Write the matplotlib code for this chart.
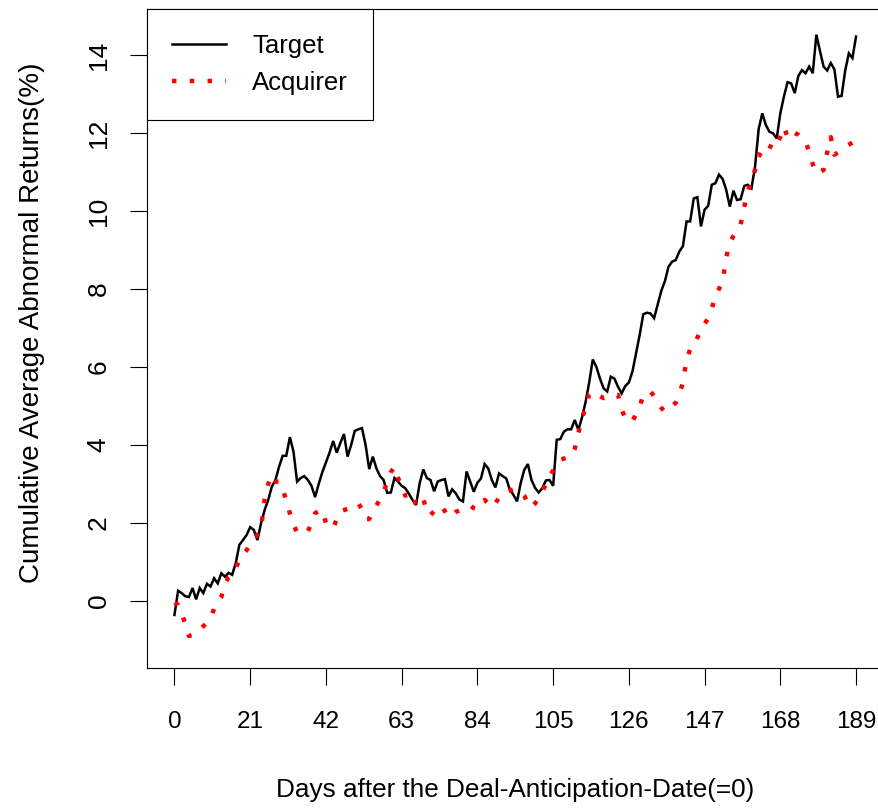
import matplotlib
matplotlib.use("Agg")
import matplotlib.pyplot as plt

# Days after the deal-anticipation date
days = list(range(190))

# Cumulative average abnormal returns (%) of target firms
target = [
    -0.36, 0.26, 0.20, 0.12, 0.10, 0.33, 0.04, 0.33, 0.20, 0.44,
    0.37, 0.58, 0.45, 0.71, 0.62, 0.72, 0.67, 0.97, 1.44, 1.56,
    1.69, 1.89, 1.82, 1.56, 1.99, 2.33, 2.59, 2.93, 3.10, 3.44,
    3.72, 3.72, 4.20, 3.83, 3.06, 3.15, 3.20, 3.10, 2.95, 2.66,
    3.00, 3.30, 3.55, 3.80, 4.10, 3.80, 4.05, 4.28, 3.70, 4.00,
    4.36, 4.40, 4.43, 4.00, 3.38, 3.70, 3.40, 3.20, 3.10, 2.77,
    2.78, 3.15, 3.06, 2.95, 2.89, 2.75, 2.59, 2.46, 3.02, 3.37,
    3.15, 3.10, 2.81, 3.06, 3.10, 3.12, 2.68, 2.86, 2.76, 2.60,
    2.55, 3.32, 3.06, 2.80, 3.03, 3.14, 3.51, 3.40, 3.10, 2.91,
    3.27, 3.20, 3.14, 2.85, 2.72, 2.55, 3.02, 3.36, 3.51, 3.10,
    2.90, 2.78, 2.89, 3.09, 3.10, 2.95, 4.13, 4.15, 4.34, 4.40,
    4.40, 4.64, 4.38, 4.70, 5.10, 5.60, 6.19, 6.00, 5.70, 5.45,
    5.37, 5.75, 5.70, 5.49, 5.32, 5.51, 5.60, 5.88, 6.35, 6.82,
    7.35, 7.39, 7.37, 7.25, 7.60, 7.95, 8.20, 8.57, 8.70, 8.74,
    8.96, 9.10, 9.73, 9.73, 10.32, 10.35, 9.60, 10.03, 10.13, 10.67,
    10.71, 10.93, 10.82, 10.54, 10.11, 10.52, 10.28, 10.30, 10.64, 10.67,
    10.58, 11.14, 12.10, 12.50, 12.20, 12.03, 11.99, 11.86, 12.50, 12.93,
    13.30, 13.27, 13.02, 13.46, 13.61, 13.53, 13.70, 13.53, 14.52, 14.10,
    13.70, 13.60, 13.79, 13.63, 12.93, 12.95, 13.60, 14.04, 13.92, 14.47,
]

# Cumulative average abnormal returns (%) of acquiring firms
acquirer = [
    -0.05, -0.10, -0.30, -0.60, -0.90, -0.87, -0.82, -0.75, -0.65, -0.55,
    -0.45, -0.20, -0.02, 0.10, 0.45, 0.60, 0.67, 0.85, 1.05, 1.20,
    1.30, 1.45, 1.60, 1.70, 1.86, 2.60, 3.00, 3.23, 3.06, 3.06,
    2.90, 2.55, 2.25, 1.95, 1.76, 1.72, 1.75, 1.78, 2.00, 2.25,
    2.30, 2.33, 2.00, 1.90, 1.86, 2.10, 2.30, 2.33, 2.36, 2.40,
    2.45, 2.50, 2.35, 2.10, 2.10, 2.26, 2.45, 2.60, 2.80, 3.05,
    3.30, 3.44, 3.15, 2.95, 2.70, 2.72, 2.77, 2.45, 2.50, 2.63,
    2.25, 2.20, 2.30, 2.40, 2.44, 2.30, 2.15, 2.20, 2.28, 2.32,
    2.38, 2.42, 2.44, 2.38, 2.35, 2.50, 2.59, 2.50, 2.40, 2.50,
    2.65, 2.75, 2.80, 2.83, 2.86, 2.84, 2.80, 2.70, 2.50, 2.40,
    2.50, 2.63, 2.80, 3.00, 3.20, 3.34, 3.50, 3.62, 3.65, 3.67,
    3.70, 3.90, 4.30, 4.70, 4.94, 5.30, 5.37, 5.30, 5.25, 5.20,
    5.22, 5.25, 5.28, 5.28, 4.90, 4.70, 4.60, 4.60, 4.80, 4.98,
    5.28, 5.32, 5.37, 5.25, 5.10, 4.95, 4.85, 4.90, 5.00, 5.08,
    5.30, 5.60, 6.20, 6.45, 6.52, 6.75, 6.95, 7.10, 7.25, 7.50,
    7.80, 8.00, 8.20, 8.80, 9.20, 9.35, 9.45, 9.65, 10.10, 10.50,
    10.80, 11.05, 11.45, 11.40, 11.39, 11.60, 11.78, 11.70, 11.90, 12.15,
    11.90, 11.85, 12.00, 11.95, 11.85, 11.80, 11.50, 11.20, 10.96, 11.00,
    11.05, 11.50, 11.89, 11.44, 11.50, 11.58, 11.65, 11.70, 11.75, 11.80,
]

xticks = [0, 21, 42, 63, 84, 105, 126, 147, 168, 189]
yticks = [0, 2, 4, 6, 8, 10, 12, 14]

plt.rcParams['font.family'] = ['Liberation Sans', 'DejaVu Sans']

W, H = 879, 809
fig = plt.figure(figsize=(W / 100, H / 100), dpi=100)
left, right, top, bottom = 147.2, 883.3, 8.5, 668.0
ax = fig.add_axes([left / W, 1 - bottom / H, (right - left) / W, (bottom - top) / H])

ax.plot(days, target, color='black', lw=1.8, label='Target',
        solid_joinstyle='miter')
ax.plot(days, acquirer, color='red', lw=3.2, linestyle=(0, (1, 3)),
        dash_capstyle='butt', label='Acquirer')

ax.set_xlim(-7.56, 196.56)
ax.set_ylim(-1.72, 15.19)
ax.set_xticks(xticks)
ax.set_xticklabels([str(t) for t in xticks])
ax.set_yticks(yticks)
ax.set_yticklabels([str(t) for t in yticks])

for s in ax.spines.values():
    s.set_linewidth(0.8)
    s.set_color('black')

ax.tick_params(axis='x', direction='out', length=12.2, width=0.8,
               pad=19, labelsize=17.5)
ax.tick_params(axis='y', direction='out', length=12.2, width=0.8,
               pad=14, labelsize=19, labelrotation=90)
for lab in ax.get_yticklabels():
    lab.set_va('center')

ax.set_xlabel('Days after the Deal-Anticipation-Date(=0)', fontsize=18.8)
ax.xaxis.label.set_va('baseline')
ax.xaxis.set_label_coords(0.5, -0.1956)
ax.set_ylabel('Cumulative Average Abnormal Returns(%)', fontsize=20)
ax.yaxis.label.set_va('baseline')
ax.yaxis.set_label_coords(-0.1470, 0.524)

leg = ax.legend(loc='upper left', bbox_to_anchor=(0, 1), borderaxespad=0,
                frameon=True, fancybox=False, edgecolor='black', framealpha=1,
                fontsize=18.5, handlelength=2.1, handletextpad=1.0,
                labelspacing=0.5, borderpad=0.98)
leg.get_frame().set_linewidth(0.8)

fig.savefig('out.png', dpi=100)
